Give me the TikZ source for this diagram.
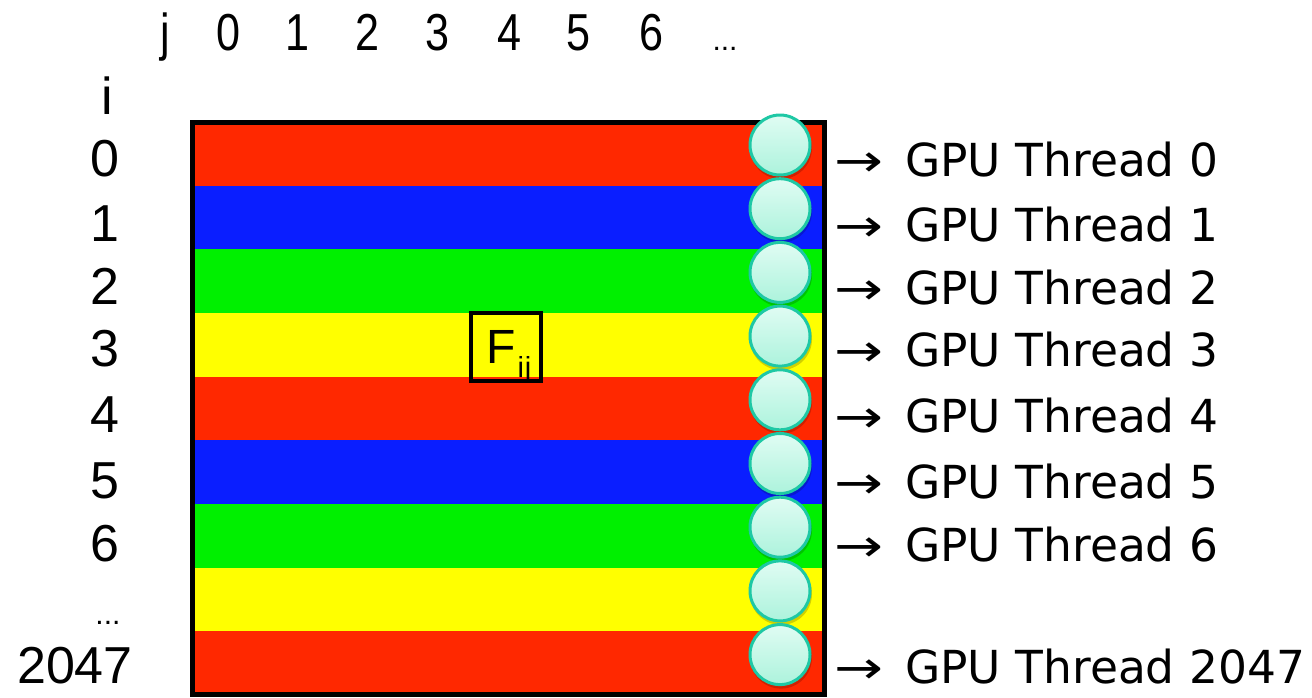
\documentclass[tikz,border=0pt]{standalone}
\usepackage{fontspec}
\setmainfont{Liberation Sans}
\newfontfamily\dvs{DejaVu Sans}
\definecolor{cred}{RGB}{255,40,0}
\definecolor{cblue}{RGB}{10,30,255}
\definecolor{cgreen}{RGB}{0,240,0}
\definecolor{cyellow}{RGB}{255,255,0}
\definecolor{balltop}{RGB}{224,252,243}
\definecolor{ballbot}{RGB}{172,243,220}
\definecolor{ballline}{RGB}{30,200,165}
\begin{document}
\begin{tikzpicture}[x=1pt,y=-1pt,
  ball/.style={circle, minimum size=60pt, inner sep=0pt, top color=balltop, bottom color=ballbot, draw=ballline, line width=3pt},
  ballshadow/.style={circle, minimum size=62pt, inner sep=0pt, fill=black, opacity=0.18},
  rowlbl/.style={font=\fontsize{52}{52}\selectfont, anchor=base, inner sep=0pt},
  collbl/.style={font=\fontsize{52}{52}\selectfont, anchor=base, inner sep=0pt},
  dotlbl/.style={font=\fontsize{30}{30}\selectfont, anchor=base, inner sep=0pt},
  arr/.style={font=\dvs\fontsize{45}{45}\selectfont, anchor=base west, inner sep=0pt},
  thr/.style={font=\dvs\fontsize{45.5}{45.5}\selectfont, anchor=base west, inner sep=0pt}
]
\useasboundingbox (0,0) rectangle (1312,697);
% stripes
\foreach \k/\c in {0/cred,1/cblue,2/cgreen,3/cyellow,4/cred,5/cblue,6/cgreen,7/cyellow,8/cred}
  \fill[\c] (192,{122+63.67*\k}) rectangle (825,{122+63.67*(\k+1)});
\draw[line width=5pt] (192.5,122.5) rectangle (824.5,694.5);
% F_ij box
\node[draw, line width=4.5pt, minimum width=70pt, minimum height=68pt, inner sep=0pt] (fij) at (506,347) {};
\node[anchor=base west, inner sep=0pt, font=\fontsize{48}{48}\selectfont] (ftxt) at (486,363) {F\kern2pt\raisebox{-14pt}{\fontsize{29}{29}\selectfont i\kern1pt j}};
% balls
\foreach \k in {0,...,8} {
  \node[ballshadow] (s\k) at (781,{148+63.7*\k}) {};
  \node[ball] (b\k) at (780,{145+63.7*\k}) {};
}
% top labels
\node[collbl] (j) at (165,50) {\scalebox{0.83}[1]{j}};
\foreach \v/\x in {0/228,1/297,2/367,3/437,4/509,5/578,6/651}
  \node[collbl] (c\v) at (\x,50) {\scalebox{0.83}[1]{\v}};
\node[dotlbl] (cdots) at (725,50) {...};
% left labels
\node[rowlbl] (i) at (107,114) {i};
\foreach \v/\y in {0/176,1/241,2/304,3/366,4/432,5/498,6/561}
  \node[rowlbl] (r\v) at (105,\y) {\v};
\node[dotlbl] (rdots) at (108,624) {...};
\node[rowlbl] (r2047) at (75,683) {2047};
% thread labels
\foreach \v/\y in {0/176,1/241,2/304,3/366,4/432,5/498,6/561,2047/683} {
  \node[arr] (a\v) at (834,\y) {\scalebox{1.3}[1]{→}};
  \node[thr] (t\v) at (905,\y) {GPU Thread \v};
}
\end{tikzpicture}
\end{document}
